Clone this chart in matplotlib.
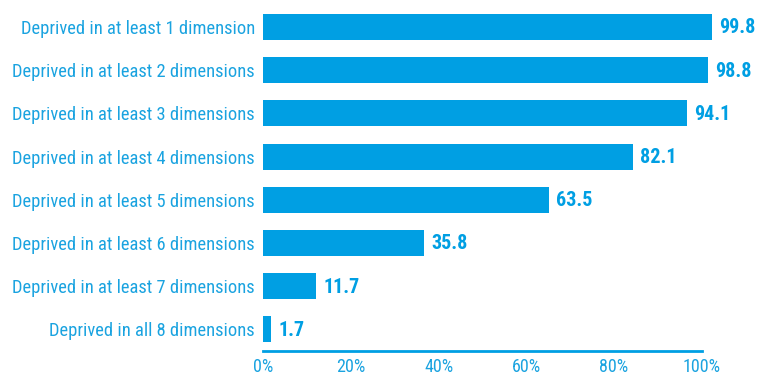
import matplotlib
matplotlib.use("Agg")
import matplotlib.pyplot as plt

categories = [
    "Deprived in at least 1 dimension",
    "Deprived in at least 2 dimensions",
    "Deprived in at least 3 dimensions",
    "Deprived in at least 4 dimensions",
    "Deprived in at least 5 dimensions",
    "Deprived in at least 6 dimensions",
    "Deprived in at least 7 dimensions",
    "Deprived in all 8 dimensions",
]
values = [99.8, 98.8, 94.1, 82.1, 63.5, 35.8, 11.7, 1.7]
tick_values = [0, 20, 40, 60, 80, 100]
tick_labels = ["0%", "20%", "40%", "60%", "80%", "100%"]

bar_color = "#009FE3"
text_color = "#1AA3E0"
font = ["Roboto Condensed", "DejaVu Sans"]

W, H = 765, 372
fig = plt.figure(figsize=(W / 100, H / 100), dpi=100)
x0 = 263.3
bottom_px, top_px = 351.0, 5.4
# bars axes (bars drawn at 4.5 px per percent in the original)
ax = fig.add_axes([x0 / W, 1 - bottom_px / H, 450 / W, (bottom_px - top_px) / H])
# scale axis (0-100% spans 263-701 px in the original)
axs = fig.add_axes([x0 / W, 1 - bottom_px / H, (701.5 - x0) / W, (bottom_px - top_px) / H])
axs.patch.set_visible(False)

ypos = list(range(len(categories)))
ax.barh(ypos, values, height=0.6, color=bar_color)
ax.set_xlim(0, 100)
ax.set_ylim(len(categories) - 0.5, -0.5)

for y, v in zip(ypos, values):
    ax.text(v + 1.6, y + 0.02, f"{v:.1f}", va="center", ha="left", color=bar_color,
            fontsize=14.5, fontweight="bold", family=font, clip_on=False)

ax.set_yticks(ypos)
ax.set_yticklabels(categories, family=font, fontsize=13.3, color=text_color)
ax.set_xticks([])
ax.tick_params(axis="both", length=0)
ax.tick_params(axis="y", pad=6)
for s in ax.spines.values():
    s.set_visible(False)

axs.set_xlim(0, 100)
axs.set_yticks([])
axs.set_xticks(tick_values)
axs.set_xticklabels(tick_labels, family=font, fontsize=13, color=text_color)
axs.tick_params(axis="x", length=0, pad=5)
for s in ["top", "right", "left"]:
    axs.spines[s].set_visible(False)
axs.spines["bottom"].set_color(bar_color)
axs.spines["bottom"].set_linewidth(2)

fig.savefig("out.png", dpi=100)
